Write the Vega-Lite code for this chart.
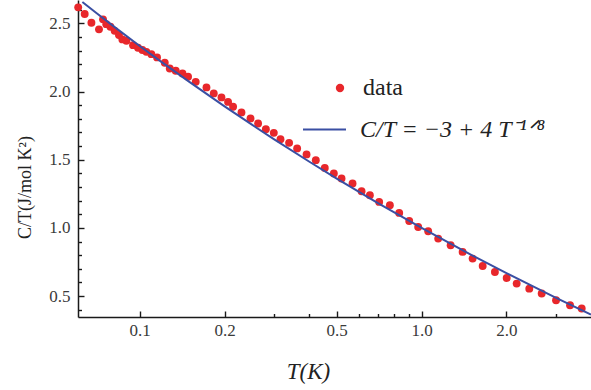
{
  "$schema": "https://vega.github.io/schema/vega-lite/v6.json",
  "width": 513,
  "height": 317,
  "autosize": "none",
  "padding": {"left": 78, "top": 0, "right": 0, "bottom": 73},
  "background": "white",
  "config": {
    "view": {"stroke": null},
    "font": "Liberation Serif",
    "axis": {
      "grid": false,
      "domainColor": "#1a1a1a",
      "domainWidth": 1.5,
      "tickColor": "#1a1a1a",
      "tickWidth": 1.4,
      "labelFont": "Liberation Serif",
      "labelFontSize": 17,
      "labelColor": "#3a3a3a",
      "titleFont": "Liberation Serif",
      "titleFontWeight": "normal",
      "titleColor": "#222"
    },
    "legend": {
      "labelFont": "Liberation Serif",
      "labelFontSize": 24,
      "labelColor": "#222",
      "labelLimit": 400,
      "padding": 0,
      "title": null
    }
  },
  "datasets": {
    "pts": [
      {"T": 0.0605, "v": 2.617}, {"T": 0.0638, "v": 2.568}, {"T": 0.0674, "v": 2.504},
      {"T": 0.0717, "v": 2.456}, {"T": 0.0741, "v": 2.529}, {"T": 0.0761, "v": 2.494},
      {"T": 0.0787, "v": 2.475}, {"T": 0.0815, "v": 2.445}, {"T": 0.0844, "v": 2.414},
      {"T": 0.0868, "v": 2.382}, {"T": 0.0897, "v": 2.372}, {"T": 0.0947, "v": 2.340},
      {"T": 0.0986, "v": 2.321}, {"T": 0.1022, "v": 2.304}, {"T": 0.1056, "v": 2.291},
      {"T": 0.1100, "v": 2.274}, {"T": 0.1152, "v": 2.250}, {"T": 0.1227, "v": 2.211},
      {"T": 0.1278, "v": 2.169}, {"T": 0.1342, "v": 2.152}, {"T": 0.1418, "v": 2.133},
      {"T": 0.1484, "v": 2.108}, {"T": 0.1580, "v": 2.071}, {"T": 0.1725, "v": 2.030},
      {"T": 0.1831, "v": 1.986}, {"T": 0.1950, "v": 1.957}, {"T": 0.2058, "v": 1.924},
      {"T": 0.2144, "v": 1.888}, {"T": 0.2296, "v": 1.847}, {"T": 0.2472, "v": 1.803},
      {"T": 0.2630, "v": 1.766}, {"T": 0.2802, "v": 1.724}, {"T": 0.2990, "v": 1.697},
      {"T": 0.3158, "v": 1.651}, {"T": 0.3388, "v": 1.624}, {"T": 0.3618, "v": 1.583},
      {"T": 0.3907, "v": 1.539}, {"T": 0.4214, "v": 1.497}, {"T": 0.4535, "v": 1.440},
      {"T": 0.4883, "v": 1.399}, {"T": 0.5200, "v": 1.362}, {"T": 0.5689, "v": 1.326},
      {"T": 0.6124, "v": 1.269}, {"T": 0.6554, "v": 1.240}, {"T": 0.7071, "v": 1.191},
      {"T": 0.7717, "v": 1.167}, {"T": 0.8328, "v": 1.110}, {"T": 0.9038, "v": 1.051},
      {"T": 0.9726, "v": 1.007}, {"T": 1.0554, "v": 0.976}, {"T": 1.1453, "v": 0.922},
      {"T": 1.2677, "v": 0.873}, {"T": 1.398, "v": 0.824}, {"T": 1.517, "v": 0.775},
      {"T": 1.647, "v": 0.721}, {"T": 1.820, "v": 0.677}, {"T": 2.004, "v": 0.633},
      {"T": 2.174, "v": 0.592}, {"T": 2.410, "v": 0.555}, {"T": 2.667, "v": 0.519},
      {"T": 2.999, "v": 0.470}, {"T": 3.362, "v": 0.433}, {"T": 3.698, "v": 0.409}
    ],
    "fit": [
      {"T": 0.0626, "v": 2.6558}, {"T": 0.07, "v": 2.5773}, {"T": 0.08, "v": 2.4849},
      {"T": 0.1, "v": 2.3341}, {"T": 0.12, "v": 2.2139}, {"T": 0.15, "v": 2.0705},
      {"T": 0.2, "v": 1.8914}, {"T": 0.25, "v": 1.7568}, {"T": 0.3, "v": 1.6496},
      {"T": 0.4, "v": 1.4854}, {"T": 0.5, "v": 1.3620}, {"T": 0.7, "v": 1.1824},
      {"T": 1.0, "v": 1.0}, {"T": 1.5, "v": 0.8023}, {"T": 2.0, "v": 0.6680},
      {"T": 3.0, "v": 0.4867}, {"T": 3.99, "v": 0.3646}
    ]
  },
  "resolve": {"axis": {"x": "independent", "y": "independent"}},
  "layer": [
    {
      "data": {"name": "pts"},
      "transform": [{"calculate": "'data'", "as": "series"}],
      "mark": {"type": "point", "filled": true, "size": 62, "opacity": 1},
      "encoding": {
        "x": {
          "field": "T", "type": "quantitative",
          "scale": {"type": "log", "domain": [0.0604, 3.99], "nice": false},
          "axis": {
            "orient": "bottom",
            "values": [0.1, 0.2, 0.5, 1, 2],
            "format": ".1f",
            "domain": true,
            "ticks": true,
            "tickSize": -6,
            "labelPadding": 11,
            "title": "T(K)",
            "titleFontStyle": "italic",
            "titleFontSize": 23,
            "titleX": 230,
            "titleY": 54,
            "titleBaseline": "middle",
            "titleAlign": "center"
          }
        },
        "y": {
          "field": "v", "type": "quantitative",
          "scale": {"domain": [0.347, 2.671], "nice": false, "zero": false},
          "axis": {
            "orient": "left",
            "values": [0.5, 1.0, 1.5, 2.0, 2.5],
            "format": ".1f",
            "domain": true,
            "ticks": true,
            "tickSize": -6,
            "labelPadding": 14,
            "title": "C/T(J/mol K²)",
            "titleFontSize": 18,
            "titleX": -53,
            "titleY": 187,
            "titleAngle": -90,
            "titleBaseline": "middle",
            "titleAlign": "center"
          }
        },
        "color": {
          "field": "series", "type": "nominal",
          "scale": {"domain": ["data"], "range": ["#e8272b"]},
          "legend": {
            "orient": "none",
            "legendX": 250,
            "legendY": 76,
            "symbolType": "circle",
            "symbolSize": 70,
            "symbolOpacity": 1,
            "labelOffset": 11
          }
        }
      }
    },
    {
      "data": {"name": "fit"},
      "transform": [{"calculate": "'C/T = −3 + 4 T⁻¹ᐟ⁸'", "as": "series"}],
      "mark": {"type": "line", "strokeWidth": 2},
      "encoding": {
        "x": {"field": "T", "type": "quantitative", "axis": null},
        "y": {"field": "v", "type": "quantitative", "axis": null},
        "stroke": {
          "field": "series", "type": "nominal",
          "scale": {"domain": ["C/T = −3 + 4 T⁻¹ᐟ⁸"], "range": ["#3a4fa3"]},
          "legend": {
            "orient": "none",
            "legendX": 224,
            "legendY": 107,
            "symbolType": "stroke",
            "symbolSize": 1849,
            "symbolStrokeWidth": 2,
            "labelOffset": 13,
            "labelFontStyle": "italic"
          }
        }
      }
    },
    {
      "data": {"name": "pts"},
      "mark": {"type": "point", "opacity": 0},
      "encoding": {
        "x": {
          "field": "T", "type": "quantitative",
          "axis": {
            "orient": "bottom", "values": [0.3, 0.4, 0.6, 0.7, 0.8, 0.9, 3],
            "labels": false, "domain": false, "ticks": true, "tickSize": -3.5, "title": null
          }
        },
        "y": {
          "field": "v", "type": "quantitative",
          "axis": {
            "orient": "left",
            "values": [0.4, 0.6, 0.7, 0.8, 0.9, 1.1, 1.2, 1.3, 1.4, 1.6, 1.7, 1.8, 1.9, 2.1, 2.2, 2.3, 2.4, 2.6],
            "labels": false, "domain": false, "ticks": true, "tickSize": -3.5, "title": null
          }
        }
      }
    }
  ]
}
